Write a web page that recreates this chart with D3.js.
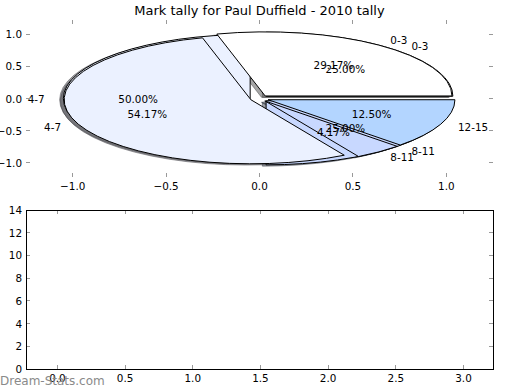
<!DOCTYPE html>
<html>
<head>
<meta charset="utf-8">
<script src="https://cdn.jsdelivr.net/npm/d3@7"></script>
<style>
  body { margin: 0; background: #fff; }
  text { font-family: "DejaVu Sans", sans-serif; fill: #000; }
</style>
</head>
<body>
<div id="chart"></div>
<script>
var W = 520, H = 390;

// two tallies drawn on top of each other
var labelsA = ["0-3", "4-7", "8-11"],
    valuesA = [1, 2, 1];            // 25.00% / 50.00% / 25.00%
var labelsB = ["0-3", "4-7", "8-11", "12-15"],
    valuesB = [7, 13, 1, 3];        // 29.17% / 54.17% / 4.17% / 12.50%
var colorOf = {"0-3": "#ffffff", "4-7": "#ebf1ff", "8-11": "#c8d8ff", "12-15": "#b3d5ff"};
var explode = 0.05;

var pieXTicks = [-1.0, -0.5, 0.0, 0.5, 1.0],
    pieYTicks = [-1.0, -0.5, 0.0, 0.5, 1.0];
var barXTicks = [0.0, 0.5, 1.0, 1.5, 2.0, 2.5, 3.0],
    barYTicks = [0, 2, 4, 6, 8, 10, 12, 14];

var fs = "10.4px";

var svg = d3.select("#chart").append("svg")
    .attr("width", W).attr("height", H);

svg.append("text")
    .attr("x", 259.5).attr("y", 10)
    .attr("text-anchor", "middle").attr("dominant-baseline", "central")
    .style("font-size", "13px")
    .text("Mark tally for Paul Duffield - 2010 tally");

// ---- top axes (pie) ----
var x1 = d3.scaleLinear().domain([-1.25, 1.25]).range([26, 493]),
    y1 = d3.scaleLinear().domain([-1.225, 1.225]).range([177, 20]);
var kx = x1(1) - x1(0), ky = y1(0) - y1(1);

function tickMarks(g, xs, ys, xt, yt) {
  var r = xs.range(), d = ys.range();
  var top = d[1], bot = d[0], left = r[0], right = r[1];
  xt.forEach(function(t) {
    g.append("line").attr("x1", xs(t)).attr("x2", xs(t)).attr("y1", bot).attr("y2", bot - 4);
    g.append("line").attr("x1", xs(t)).attr("x2", xs(t)).attr("y1", top).attr("y2", top + 4);
  });
  yt.forEach(function(t) {
    g.append("line").attr("y1", ys(t)).attr("y2", ys(t)).attr("x1", left).attr("x2", left + 4);
    g.append("line").attr("y1", ys(t)).attr("y2", ys(t)).attr("x1", right).attr("x2", right - 4);
  });
  g.selectAll("line").attr("stroke", "#999").attr("stroke-width", 1).attr("shape-rendering", "crispEdges");
}

function tickLabels(g, xs, ys, xt, yt, fmtX, fmtY) {
  var bot = ys.range()[0], left = xs.range()[0];
  g.selectAll(".xl").data(xt).enter().append("text")
      .attr("x", function(d) { return xs(d); })
      .attr("y", bot + 9)
      .attr("text-anchor", "middle").attr("dominant-baseline", "central")
      .style("font-size", fs)
      .text(fmtX);
  g.selectAll(".yl").data(yt).enter().append("text")
      .attr("x", left - 4)
      .attr("y", function(d) { return ys(d); })
      .attr("text-anchor", "end").attr("dominant-baseline", "central")
      .style("font-size", fs)
      .text(fmtY);
}

var minus = function(s) { return s.replace("-", "\u2212"); };
var f1 = function(d) { return minus(d3.format(".1f")(d)); };

var gPie = svg.append("g");
var gShadow = gPie.append("g"), gWedge = gPie.append("g"), gText = gPie.append("g");

// d3 angles run clockwise from 12 o'clock; a negative sweep gives the CCW-from-3 layout
var pie = d3.pie().sort(null).startAngle(Math.PI / 2).endAngle(Math.PI / 2 - 2 * Math.PI);
var arc = d3.arc().innerRadius(0).outerRadius(1);

function drawPie(labels, values) {
  var arcs = pie(values);
  var total = d3.sum(values);
  arcs.forEach(function(a, i) {
    var mid = (a.startAngle + a.endAngle) / 2;
    var ux = Math.sin(mid), uy = Math.cos(mid);
    var cx = explode * ux, cy = explode * uy;
    var col = d3.color(colorOf[labels[i]]);
    var shade = d3.rgb(col.r * 0.3, col.g * 0.3, col.b * 0.3);

    gShadow.append("path")
        .attr("transform", "translate(" + x1(cx - 0.02) + "," + y1(cy - 0.02) + ") scale(" + kx + "," + ky + ")")
        .attr("d", arc(a))
        .attr("fill", shade).attr("fill-opacity", 0.5)
        .attr("stroke", shade).attr("stroke-opacity", 0.5)
        .attr("vector-effect", "non-scaling-stroke");

    gWedge.append("path")
        .attr("transform", "translate(" + x1(cx) + "," + y1(cy) + ") scale(" + kx + "," + ky + ")")
        .attr("d", arc(a))
        .attr("fill", col)
        .attr("stroke", "#000").attr("stroke-width", 1)
        .attr("vector-effect", "non-scaling-stroke");

    var lx = cx + 1.1 * ux, ly = cy + 1.1 * uy;
    gText.append("text")
        .attr("x", x1(lx)).attr("y", y1(ly))
        .attr("text-anchor", lx > 0 ? "start" : "end")
        .attr("dominant-baseline", "central")
        .style("font-size", fs)
        .text(labels[i]);

    var px = cx + 0.6 * ux, py = cy + 0.6 * uy;
    gText.append("text")
        .attr("x", x1(px)).attr("y", y1(py))
        .attr("text-anchor", "middle")
        .attr("dominant-baseline", "central")
        .style("font-size", fs)
        .text(d3.format(".2f")(values[i] / total * 100) + "%");
  });
}

drawPie(labelsA, valuesA);
drawPie(labelsB, valuesB);

tickMarks(svg.append("g"), x1, y1, pieXTicks, pieYTicks);
tickLabels(svg.append("g"), x1, y1, pieXTicks, pieYTicks, f1, f1);

// ---- bottom axes (empty) ----
var x2 = d3.scaleLinear().domain([-0.232, 3.218]).range([26, 493]),
    y2 = d3.scaleLinear().domain([0, 14]).range([369, 210]);

var gBar = svg.append("g");
tickMarks(gBar.append("g"), x2, y2, barXTicks, barYTicks);
gBar.append("rect")
    .attr("x", 26).attr("y", 210)
    .attr("width", x2.range()[1] - x2.range()[0])
    .attr("height", y2.range()[0] - y2.range()[1])
    .attr("fill", "none").attr("stroke", "#000").attr("stroke-width", 1)
    .attr("shape-rendering", "crispEdges");

svg.append("text")
    .attr("x", 0).attr("y", 381)
    .attr("dominant-baseline", "central")
    .style("font-size", "12px").style("fill", "#8a8a8a")
    .text("Dream-Stats.com");

tickLabels(gBar.append("g"), x2, y2, barXTicks, barYTicks, f1, function(d) { return d; });
</script>
</body>
</html>
